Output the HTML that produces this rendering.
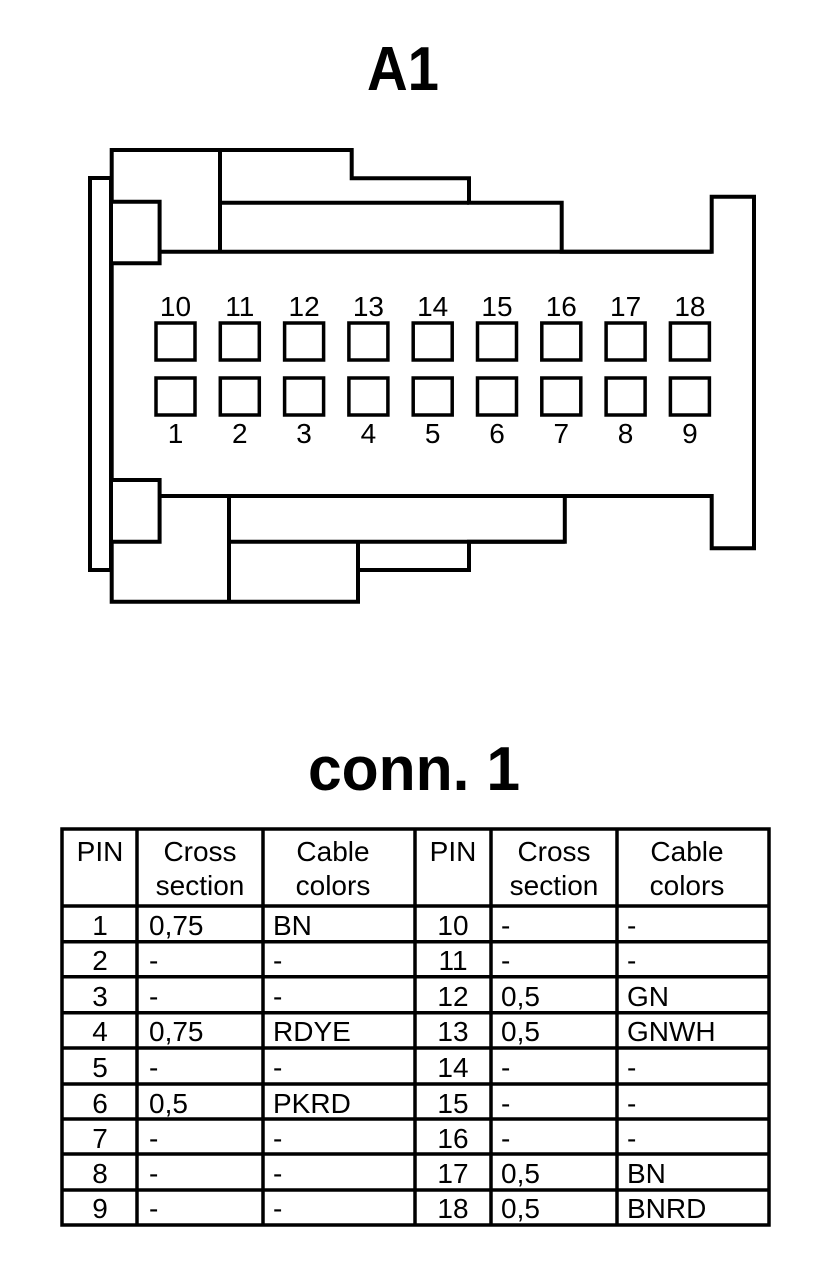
<!DOCTYPE html>
<html><head><meta charset="utf-8"><style>html,body{margin:0;padding:0;background:#fff}svg{display:block}</style></head>
<body>
<svg width="832" height="1276" viewBox="0 0 832 1276" xmlns="http://www.w3.org/2000/svg" font-family="Liberation Sans, Arial, sans-serif">
<rect width="832" height="1276" fill="#fff"/>
<text x="403" y="90" font-size="62" font-weight="bold" text-anchor="middle" textLength="72" lengthAdjust="spacingAndGlyphs">A1</text>
<g fill="none" stroke="#000" stroke-width="4" stroke-linejoin="miter">
<rect x="90" y="178" width="21" height="392"/>
<path d="M111.7,150 H351.7 V178.3 H469 V202.7 H561.7 V251.7 H711.7 V196.7 H754 V548.3 H711.7 V496 H564.8 V541.7 H469 V570 H358 V601.7 H111.7 V541.7 H159.6 V480 H111.7 V263.3 H159.6 V201.7 H111.7 Z" fill="#fff"/>
<line x1="220" y1="150" x2="220" y2="251.7"/>
<line x1="220" y1="202.7" x2="469" y2="202.7"/>
<line x1="159.6" y1="251.7" x2="711.7" y2="251.7"/>
<line x1="159.6" y1="496" x2="564.8" y2="496"/>
<line x1="229" y1="496" x2="229" y2="601.7"/>
<line x1="229" y1="541.7" x2="564.8" y2="541.7"/>
<line x1="358" y1="541.7" x2="358" y2="570"/>
</g>
<g fill="none" stroke="#000" stroke-width="3.5">
<rect x="156" y="323" width="39" height="37"/><rect x="220.3" y="323" width="39" height="37"/><rect x="284.6" y="323" width="39" height="37"/><rect x="348.9" y="323" width="39" height="37"/><rect x="413.2" y="323" width="39" height="37"/><rect x="477.5" y="323" width="39" height="37"/><rect x="541.8" y="323" width="39" height="37"/><rect x="606.1" y="323" width="39" height="37"/><rect x="670.4" y="323" width="39" height="37"/>
<rect x="156" y="378" width="39" height="37"/><rect x="220.3" y="378" width="39" height="37"/><rect x="284.6" y="378" width="39" height="37"/><rect x="348.9" y="378" width="39" height="37"/><rect x="413.2" y="378" width="39" height="37"/><rect x="477.5" y="378" width="39" height="37"/><rect x="541.8" y="378" width="39" height="37"/><rect x="606.1" y="378" width="39" height="37"/><rect x="670.4" y="378" width="39" height="37"/>
</g>
<g font-size="28" text-anchor="middle">
<text x="175.5" y="316">10</text><text x="239.8" y="316">11</text><text x="304.1" y="316">12</text><text x="368.4" y="316">13</text><text x="432.7" y="316">14</text><text x="497" y="316">15</text><text x="561.3" y="316">16</text><text x="625.6" y="316">17</text><text x="689.9" y="316">18</text>
<text x="175.5" y="443">1</text><text x="239.8" y="443">2</text><text x="304.1" y="443">3</text><text x="368.4" y="443">4</text><text x="432.7" y="443">5</text><text x="497" y="443">6</text><text x="561.3" y="443">7</text><text x="625.6" y="443">8</text><text x="689.9" y="443">9</text>
</g>
<text x="414" y="790" font-size="62" font-weight="bold" text-anchor="middle" textLength="212" lengthAdjust="spacingAndGlyphs">conn. 1</text>
<g stroke="#000" stroke-width="3.5" fill="none">
<rect x="62" y="829" width="707" height="396"/>
<line x1="137" y1="829" x2="137" y2="1225"/><line x1="263" y1="829" x2="263" y2="1225"/><line x1="415" y1="829" x2="415" y2="1225"/><line x1="491" y1="829" x2="491" y2="1225"/><line x1="617" y1="829" x2="617" y2="1225"/>
<line x1="62" y1="906" x2="769" y2="906"/><line x1="62" y1="941.7" x2="769" y2="941.7"/><line x1="62" y1="976.7" x2="769" y2="976.7"/><line x1="62" y1="1012.7" x2="769" y2="1012.7"/><line x1="62" y1="1048" x2="769" y2="1048"/><line x1="62" y1="1084" x2="769" y2="1084"/><line x1="62" y1="1119" x2="769" y2="1119"/><line x1="62" y1="1154" x2="769" y2="1154"/><line x1="62" y1="1190" x2="769" y2="1190"/>
</g>
<g font-size="28">
<g text-anchor="middle">
<text x="100" y="861">PIN</text><text x="200" y="861">Cross</text><text x="200" y="895">section</text><text x="333" y="861">Cable</text><text x="333" y="895">colors</text>
<text x="453" y="861">PIN</text><text x="554" y="861">Cross</text><text x="554" y="895">section</text><text x="687" y="861">Cable</text><text x="687" y="895">colors</text>
<text x="100" y="935">1</text><text x="100" y="970">2</text><text x="100" y="1006">3</text><text x="100" y="1041">4</text><text x="100" y="1077">5</text><text x="100" y="1113">6</text><text x="100" y="1148">7</text><text x="100" y="1183">8</text><text x="100" y="1218">9</text>
<text x="453" y="935">10</text><text x="453" y="970">11</text><text x="453" y="1006">12</text><text x="453" y="1041">13</text><text x="453" y="1077">14</text><text x="453" y="1113">15</text><text x="453" y="1148">16</text><text x="453" y="1183">17</text><text x="453" y="1218">18</text>
</g>
<text x="149" y="935">0,75</text><text x="149" y="970">-</text><text x="149" y="1006">-</text><text x="149" y="1041">0,75</text><text x="149" y="1077">-</text><text x="149" y="1113">0,5</text><text x="149" y="1148">-</text><text x="149" y="1183">-</text><text x="149" y="1218">-</text>
<text x="273" y="935">BN</text><text x="273" y="970">-</text><text x="273" y="1006">-</text><text x="273" y="1041">RDYE</text><text x="273" y="1077">-</text><text x="273" y="1113">PKRD</text><text x="273" y="1148">-</text><text x="273" y="1183">-</text><text x="273" y="1218">-</text>
<text x="501" y="935">-</text><text x="501" y="970">-</text><text x="501" y="1006">0,5</text><text x="501" y="1041">0,5</text><text x="501" y="1077">-</text><text x="501" y="1113">-</text><text x="501" y="1148">-</text><text x="501" y="1183">0,5</text><text x="501" y="1218">0,5</text>
<text x="627" y="935">-</text><text x="627" y="970">-</text><text x="627" y="1006">GN</text><text x="627" y="1041">GNWH</text><text x="627" y="1077">-</text><text x="627" y="1113">-</text><text x="627" y="1148">-</text><text x="627" y="1183">BN</text><text x="627" y="1218">BNRD</text>
</g>
</svg>
</body></html>
